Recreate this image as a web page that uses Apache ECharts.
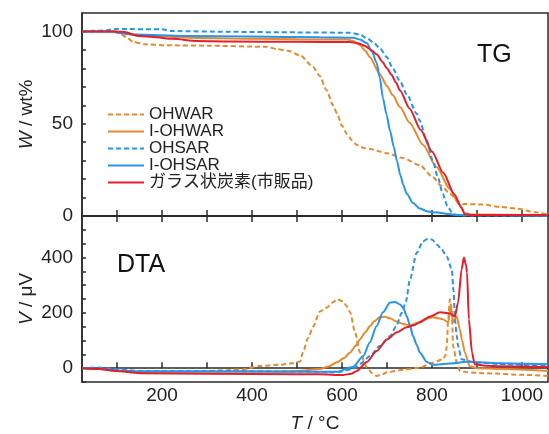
<!DOCTYPE html>
<html><head><meta charset="utf-8">
<script src="https://cdn.jsdelivr.net/npm/echarts@6/dist/echarts.min.js"></script>
<style>html,body{margin:0;padding:0;background:#fff}#c{width:549px;height:434px}</style>
</head><body><div id="c"></div>
<script>
// ---- data (T in °C, TG in wt%, DTA in µV) ----
const seriesNames = ['OHWAR', 'I-OHWAR', 'OHSAR', 'I-OHSAR', 'ガラス状炭素(市販品)'];
const xTickValues = [100,200,300,400,500,600,700,800,900,1000];
const xLabelValues = [200,400,600,800,1000];
const tgTickValues = [0,10,20,30,40,50,60,70,80,90,100];
const tgLabelValues = [0,50,100];
const dtaTickValues = [-50,0,50,100,150,200,250,300,350,400,450,500];
const dtaLabelValues = [0,200,400];

const tgOHWAR = [[22,100],[90,100],[105,99],[120,97],[135,94.5],[160,93],[211,92.5],[300,92.3],[433,91.7],[455,90.5],[480,89.5],[507,87],[535,81],[550,76],[566,68],[580,60],[589,55.5],[600,49],[611,44.5],[622,41],[633,38.5],[650,36.8],[662,36.3],[700,34],[736,31.4],[773,27.5],[802,21],[820,16.5],[840,12],[860,7.5],[869,6.5],[913,6.2],[950,5],[989,4],[1030,2],[1058,0.8]];
const tgIOHWAR = [[22,100],[95,100],[120,98.5],[180,97.5],[280,96.5],[400,96],[500,95.8],[611,95.6],[625,94.8],[640,92.6],[652,89.5],[662,86],[684,77],[700,70.4],[713,65.4],[729,59],[750,50.6],[780,38.6],[810,26.6],[840,14.6],[860,6.5],[873,1.5],[890,0.8],[1058,0.5]];
const tgOHSAR = [[22,100],[70,100.5],[100,101.3],[200,101.2],[220,100.2],[350,99.8],[500,99.5],[618,99.3],[640,98.3],[655,96.4],[670,94],[684,91],[700,86],[713,80],[729,73],[744,66],[766,55.5],[773,51.6],[788,41],[802,30],[813,21],[824,12],[835,5],[847,1],[860,0.3],[1058,0.2]];
const tgIOHSAR = [[22,100],[90,100],[110,99],[140,98.3],[250,97.6],[400,97.2],[550,96.9],[625,96.6],[640,95.6],[655,93.7],[667,89],[677,83],[684,75],[691,64],[699,55],[707,46],[715,37.5],[722,30],[730,22],[736,17],[744,12],[758,7],[773,4],[790,2.5],[802,2],[860,0.5],[1058,0.2]];
const tgGC = [[22,100],[90,100],[113,99.8],[150,97.5],[180,97],[224,96],[278,94.8],[350,94.5],[500,94.4],[618,94.3],[635,93.6],[650,92.3],[665,90],[677,87.6],[690,83.5],[700,80],[710,76.5],[720,72.3],[729,68],[750,58.3],[775,46.6],[800,35],[825,23.4],[850,11.7],[865,4.7],[873,1],[885,0.6],[1058,0.5]];

const dtaOHWAR = [[22,0],[60,-2],[100,-8],[130,-15],[200,-12],[300,-10],[380,-5],[418,8],[460,12],[490,18],[507,24],[513,57],[525,110],[536,151],[551,205],[566,219],[580,238],[589,249],[602,242],[610,225],[618,202],[629,130],[640,57],[655,4],[667,-18],[677,-28],[690,-22],[700,-15],[736,-6],[773,2],[802,20],[824,32],[830,45],[833,80],[836,176],[840,249],[844,212],[847,80],[855,22],[862,-10],[880,-15],[913,-18],[1000,-24],[1058,-28]];
const dtaIOHWAR = [[22,0],[60,-3],[100,-10],[150,-12],[300,-12],[450,-12],[500,-10],[551,-3],[570,6],[589,21],[605,37],[618,57],[630,80],[640,104],[652,130],[662,152],[672,170],[684,184],[695,186],[707,180],[720,170],[736,160],[751,155],[770,165],[785,178],[802,184],[815,180],[824,177],[836,166],[842,223],[847,166],[855,187],[862,140],[867,100],[873,57],[884,7],[900,0],[951,-3],[1058,-10]];
const dtaOHSAR = [[22,0],[60,2],[100,-5],[150,-10],[300,-10],[500,-12],[589,-15],[624,-3],[640,15],[662,43],[684,80],[707,116],[720,150],[733,200],[742,240],[751,320],[766,417],[780,458],[791,468],[800,465],[811,447],[822,428],[833,404],[844,357],[848,280],[851,177],[855,120],[858,80],[866,32],[891,22],[950,15],[1058,7]];
const dtaIOHSAR = [[22,0],[60,-2],[100,-8],[150,-12],[300,-12],[500,-13],[589,-13],[624,4],[647,43],[662,94],[677,152],[691,202],[707,237],[718,239],[729,230],[736,219],[744,188],[751,155],[758,116],[766,85],[773,57],[789,22],[802,12],[840,17],[878,23],[950,18],[1058,14]];
const dtaGC = [[22,0],[60,-3],[100,-10],[150,-18],[300,-20],[500,-22],[551,-22],[602,-25],[620,-20],[633,-10],[655,22],[677,62],[700,104],[722,130],[744,148],[760,155],[773,166],[796,187],[818,202],[840,198],[851,187],[858,237],[866,357],[871,400],[876,370],[878,346],[882,177],[889,57],[895,14],[920,9],[951,7],[1058,4]];

// ---- styles ----
const FONT = "'Liberation Sans', 'Noto Sans CJK JP', sans-serif";
const ORANGE = '#E8892E', BLUE = '#2794EC', RED = '#E41E2B';
const styles = [
  {color: ORANGE, type: [5,3]},
  {color: ORANGE, type: 'solid'},
  {color: BLUE, type: [5,3]},
  {color: BLUE, type: 'solid'},
  {color: RED, type: 'solid'}
];
const tgData = [tgOHWAR, tgIOHWAR, tgOHSAR, tgIOHSAR, tgGC];
const dtaData = [dtaOHWAR, dtaIOHWAR, dtaOHSAR, dtaIOHSAR, dtaGC];

function mk(name, data, st, idx) {
  return {
    name: name, type: 'line', data: data, xAxisIndex: idx, yAxisIndex: idx,
    showSymbol: false, symbol: 'none', smooth: 0.25, smoothMonotone: 'x',
    color: st.color,
    lineStyle: {color: st.color, width: 2, type: st.type}
  };
}
const series = [];
seriesNames.forEach((n, i) => series.push(mk(n, tgData[i], styles[i], 0)));
seriesNames.forEach((n, i) => series.push(mk(n, dtaData[i], styles[i], 1)));

const axisLineStyle = {color: '#2a2a2a', width: 1.5};
const labelStyle = {fontFamily: FONT, fontSize: 19, color: '#222', formatter: v => String(v)};

const option = {
  animation: false,
  backgroundColor: '#fff',
  textStyle: {fontFamily: FONT},
  grid: [
    {left: 82, top: 13, width: 466, height: 203, show: true, borderColor: '#2a2a2a', borderWidth: 1.5},
    {left: 82, top: 216, width: 466, height: 167, show: true, borderColor: '#2a2a2a', borderWidth: 1.5}
  ],
  legend: {
    data: seriesNames, orient: 'vertical', left: 107, top: 106, padding: 0,
    itemWidth: 36, itemHeight: 10, itemGap: 0,
    itemStyle: {opacity: 0},
    textStyle: {fontFamily: FONT, fontSize: 17, lineHeight: 17, color: '#222'}
  },
  xAxis: [
    {type: 'value', gridIndex: 0, min: 22, max: 1058, position: 'bottom',
     axisLine: {lineStyle: axisLineStyle}, splitLine: {show: false},
     axisTick: {inside: true, length: 6, customValues: xTickValues, lineStyle: axisLineStyle},
     axisLabel: {show: false}},
    {type: 'value', gridIndex: 1, min: 22, max: 1058, position: 'bottom',
     axisLine: {lineStyle: axisLineStyle}, splitLine: {show: false},
     axisTick: {inside: true, length: 6, customValues: xTickValues, lineStyle: axisLineStyle},
     axisLabel: Object.assign({customValues: xLabelValues, margin: 4}, labelStyle),
     name: '{i|T} / °C', nameLocation: 'middle', nameGap: 32, nameMoveOverlap: false,
     nameTextStyle: {fontFamily: FONT, fontSize: 19, color: '#222',
       rich: {i: {fontFamily: FONT, fontSize: 19, fontStyle: 'italic', color: '#222'}}}},
    {type: 'value', gridIndex: 1, min: 22, max: 1058, position: 'top',
     axisLine: {lineStyle: axisLineStyle}, splitLine: {show: false},
     axisTick: {inside: true, length: 6, customValues: xTickValues, lineStyle: axisLineStyle},
     axisLabel: {show: false}}
  ],
  yAxis: [
    {type: 'value', gridIndex: 0, min: 0, max: 110,
     axisLine: {show: true, lineStyle: axisLineStyle}, splitLine: {show: false},
     axisTick: {inside: true, length: 4, customValues: tgTickValues, lineStyle: axisLineStyle},
     axisLabel: Object.assign({customValues: tgLabelValues, margin: 9}, labelStyle),
     name: '{i|W} / wt%', nameLocation: 'middle', nameGap: 46, nameRotate: 90, nameMoveOverlap: false,
     nameTextStyle: {fontFamily: FONT, fontSize: 19, color: '#222',
       rich: {i: {fontFamily: FONT, fontSize: 19, fontStyle: 'italic', color: '#222'}}}},
    {type: 'value', gridIndex: 1, min: -50, max: 550,
     axisLine: {show: true, lineStyle: axisLineStyle}, splitLine: {show: false},
     axisTick: {inside: true, length: 4, customValues: dtaTickValues, lineStyle: axisLineStyle},
     axisLabel: Object.assign({customValues: dtaLabelValues, margin: 9}, labelStyle),
     name: '{i|V} / μV', nameLocation: 'middle', nameGap: 46, nameRotate: 90, nameMoveOverlap: false,
     nameTextStyle: {fontFamily: FONT, fontSize: 19, color: '#222',
       rich: {i: {fontFamily: FONT, fontSize: 19, fontStyle: 'italic', color: '#222'}}}}
  ],
  graphic: [
    {type: 'text', left: 477, top: 43, style: {text: 'TG', font: "25px 'Liberation Sans', sans-serif", fill: '#111'}},
    {type: 'text', left: 117, top: 253, style: {text: 'DTA', font: "25px 'Liberation Sans', sans-serif", fill: '#111'}}
  ],
  series: series
};
const chart = echarts.init(document.getElementById('c'), null, {renderer: 'canvas'});
chart.setOption(option);
</script></body></html>
